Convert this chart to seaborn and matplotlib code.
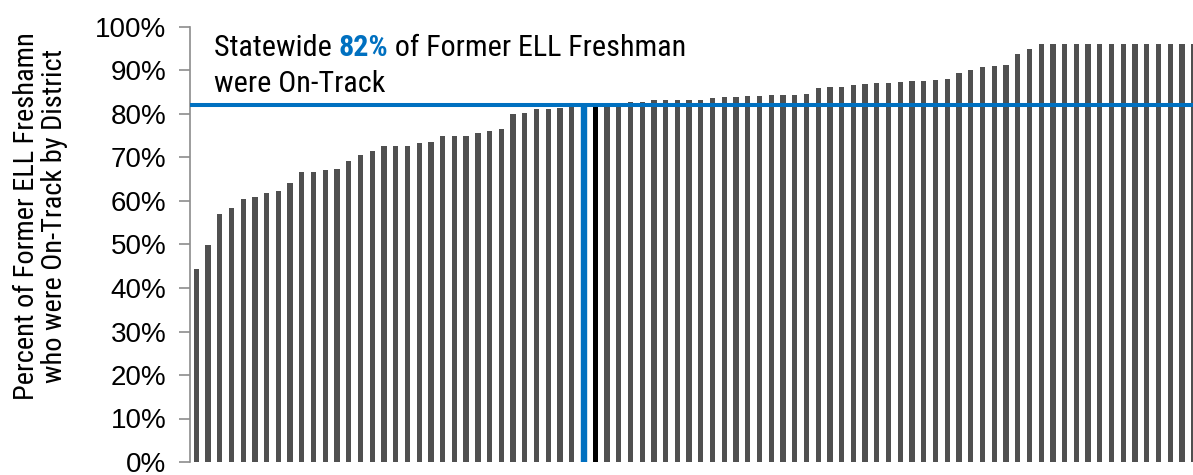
import os
import matplotlib
matplotlib.use("Agg")
import matplotlib.pyplot as plt
import seaborn as sns
from matplotlib.ticker import PercentFormatter
from matplotlib import font_manager
from matplotlib.font_manager import FontProperties

# Pourcentage d'élèves ex-ELL "on-track" par district (trié)
valeurs = [
    44.3, 49.9, 57.0, 58.5, 60.4, 61.0, 61.8, 62.4, 64.1, 66.6,
    66.6, 67.2, 67.3, 69.1, 70.6, 71.5, 72.6, 72.6, 72.7, 73.3,
    73.5, 74.9, 74.9, 74.9, 75.6, 76.2, 76.5, 79.9, 80.2, 81.2,
    81.2, 81.4, 81.7, 82.0, 82.0, 82.3, 82.6, 82.8, 82.8, 83.2,
    83.2, 83.2, 83.2, 83.2, 83.6, 83.8, 83.8, 84.1, 84.1, 84.3,
    84.3, 84.3, 84.6, 86.0, 86.3, 86.3, 86.6, 86.9, 87.1, 87.1,
    87.4, 87.5, 87.7, 87.9, 88.1, 89.5, 90.0, 90.9, 91.0, 91.3,
    93.7, 94.9, 96.0, 96.0, 96.0, 96.0, 96.0, 96.0, 96.0, 96.0,
    96.0, 96.0, 96.0, 96.0, 96.0, 96.0,
]
districts = [f"D{i:02d}" for i in range(len(valeurs))]
# barre "Statewide" et district mis en évidence
idx_etat = 33
idx_district = 34
moyenne_etat = 82

BLEU = "#0070C0"
GRIS = "#505050"


def poids(f):
    w = f.weight
    if isinstance(w, str):
        w = font_manager.weight_dict.get(w, 400)
    return w


def police_etroite(gras=False):
    """Cherche une police sans-serif étroite installée (type Arial Narrow)"""
    ordre = ["liberation", "arial", "roboto", "noto", "open", "dejavu"]
    exclus = ["mono", "serif", "italic", "oblique", "extra", "ultra", "light",
              "thin", "medium", "black", "semibold", "cjk"]
    trouves = []
    for f in font_manager.fontManager.ttflist:
        b = os.path.basename(f.fname).lower()
        if not ("narrow" in b or "condensed" in b):
            continue
        if any(k in b for k in exclus) or f.style != "normal":
            continue
        w = poids(f)
        if gras != (w >= 600):
            continue
        rang = next((i for i, o in enumerate(ordre) if o in b), len(ordre))
        trouves.append((rang, b, f.fname))
    return sorted(trouves)[0][2] if trouves else None


f_reg = police_etroite(False)
f_gras = police_etroite(True)


def fp(taille, gras=False):
    fichier = f_gras if gras else f_reg
    if fichier:
        return FontProperties(fname=fichier, size=taille)
    return FontProperties(family="Liberation Sans", size=taille,
                          weight="bold" if gras else "normal")


sns.set_style("white")
plt.rcParams["font.family"] = ["Liberation Sans", "DejaVu Sans"]

couleurs = {d: GRIS for d in districts}
couleurs[districts[idx_etat]] = BLEU
couleurs[districts[idx_district]] = "#000000"

fig = plt.figure(figsize=(11.93, 4.75), dpi=100)
ax = fig.add_axes([190 / 1193, 1 - 462 / 475, 1 - 190 / 1193, 435 / 475])

sns.barplot(x=districts, y=valeurs, hue=districts, palette=couleurs, legend=False,
            width=0.45, saturation=1, linewidth=0, ax=ax)
ax.patches[idx_etat].set_edgecolor(BLEU)
ax.patches[idx_etat].set_linewidth(1.0)

ax.axhline(moyenne_etat, color=BLEU, linewidth=2.9, zorder=3)

ax.set_ylim(0, 100)
ax.set_xlim(-0.53, 84.94)
ax.yaxis.set_major_formatter(PercentFormatter(xmax=100, decimals=0))
ax.set_yticks(range(0, 101, 10))
ax.tick_params(axis="y", length=8, width=1.2, color="#8c8c8c", pad=9, labelsize=20,
               labelcolor="black", left=True)
ax.tick_params(axis="x", bottom=False, labelbottom=False)
ax.set_xlabel("")
for s in ["top", "right", "bottom"]:
    ax.spines[s].set_visible(False)
ax.spines["left"].set_color("#8c8c8c")
ax.spines["left"].set_linewidth(1.2)

# Titre de l'axe y (police étroite, taille ajustée à la largeur du modèle)
fig.canvas.draw()
rend = fig.canvas.get_renderer()
tmp = fig.text(0, 0, "Percent of Former ELL Freshamn", fontproperties=fp(21))
taille_y = 21 * 366 / tmp.get_window_extent(rend).width
tmp.remove()
ax.set_ylabel("Percent of Former ELL Freshamn\nwho were On-Track by District",
              fontproperties=fp(taille_y), linespacing=1.05, color="black")
ax.yaxis.set_label_coords(-0.1216, 0.566)

# Annotation en plusieurs morceaux (82% en bleu gras)
t1 = ax.text(1.5, 93.3, "Statewide ", fontproperties=fp(23), va="baseline", ha="left",
             color="black")
t2 = ax.annotate("82%", xy=(1, 0), xycoords=t1, va="bottom", ha="left",
                 color=BLEU, fontproperties=fp(23, gras=True))
t3 = ax.annotate(" of Former ELL Freshman", xy=(1, 0), xycoords=t2, va="bottom",
                 ha="left", fontproperties=fp(23), color="black")
t4 = ax.text(1.5, 85.1, "were On-Track", fontproperties=fp(23), va="baseline", ha="left",
             color="black")

fig.canvas.draw()
largeur = t3.get_window_extent(rend).x1 - t1.get_window_extent(rend).x0
taille_a = 23 * 474 / largeur
for t in (t1, t2, t3, t4):
    t.set_fontsize(taille_a)

plt.savefig("out.png", dpi=100)
plt.close()
